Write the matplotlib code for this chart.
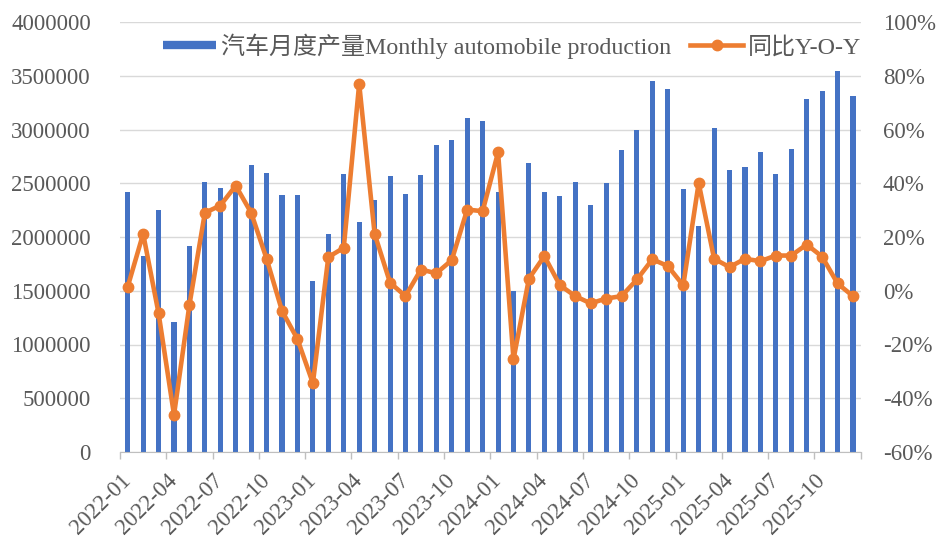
import matplotlib.pyplot as plt
from matplotlib.lines import Line2D
from matplotlib.ticker import FuncFormatter
import numpy as np

# 月份
months = [f'{y}-{m:02d}' for y in range(2022, 2026) for m in range(1, 13)]

# 汽车月度产量
production = [2420000, 1820000, 2250000, 1210000, 1920000, 2510000, 2460000, 2420000,
              2670000, 2600000, 2390000, 2390000,
              1590000, 2030000, 2590000, 2140000, 2340000, 2570000, 2400000, 2580000,
              2856000, 2900000, 3106000, 3080000,
              2416000, 1500000, 2690000, 2416000, 2380000, 2510000, 2295000, 2503000,
              2806000, 2998000, 3450000, 3378000,
              2450000, 2100000, 3010000, 2626000, 2650000, 2790000, 2590000, 2820000,
              3280000, 3360000, 3540000, 3310000]

# 同比 (%)
yoy = [1.5, 21.2, -8.4, -46.2, -5.2, 29.0, 31.7, 39.1, 29.0, 11.9, -7.5, -18.0,
       -34.4, 12.5, 16.0, 77.0, 21.2, 3.0, -2.0, 7.9, 6.5, 11.4, 30.2, 29.6,
       51.5, -25.5, 4.5, 12.9, 2.1, -2.0, -4.7, -2.9, -2.0, 4.2, 11.7, 9.2,
       2.0, 40.1, 11.9, 8.8, 11.9, 11.0, 13.1, 13.1, 17.2, 12.7, 2.7, -2.0]

grey = '#595959'
blue = '#4472C4'
orange = '#ED7D31'
plt.rcParams['font.family'] = ['Liberation Serif', 'Noto Sans CJK SC']

fig = plt.figure(figsize=(9.4, 5.43), dpi=100)
ax = fig.add_axes([120 / 940, 1 - 452 / 543, 740.7 / 940, 430 / 543])
ax2 = ax.twinx()

x = np.arange(len(months))
ax.bar(x, production, width=0.33, color=blue, zorder=2)
ax2.plot(x, yoy, color=orange, lw=3.3, marker='o', ms=7.5, zorder=3)

ax.set_xlim(-0.5, len(months) - 0.5)
ax.set_ylim(0, 4000000)
ax.set_yticks(np.arange(0, 4000001, 500000))
ax.yaxis.set_major_formatter(FuncFormatter(lambda v, p: f'{int(v)}'))
ax.yaxis.grid(True, color='#D9D9D9', lw=1, zorder=0)
ax.set_axisbelow(True)
ax2.set_ylim(-60, 100)
ax2.set_yticks(np.arange(-60, 101, 20))
ax2.set_yticklabels([f'{v}%' for v in range(-60, 101, 20)])

ax.tick_params(axis='y', length=0, labelsize=16.5, labelcolor=grey, pad=21)
ax2.tick_params(axis='y', length=0, labelsize=16.5, labelcolor=grey, pad=16)

ax.set_xticks(x[::3])
ax.set_xticklabels(months[::3], rotation=45, ha='right', va='center',
                   rotation_mode='anchor')
ax.tick_params(axis='x', which='major', length=0, labelsize=16.5,
               labelcolor=grey, pad=18)
ax.set_xticks(np.arange(-0.5, len(months), 3), minor=True)
ax.tick_params(axis='x', which='minor', length=5, color='#BFBFBF', width=1)

for a in (ax, ax2):
    for s in a.spines.values():
        s.set_visible(False)
ax.spines['bottom'].set_visible(True)
ax.spines['bottom'].set_color('#BFBFBF')

handles = [Line2D([], [], color=blue, lw=6, solid_capstyle='butt'),
           Line2D([], [], color=orange, lw=3.3, marker='o', ms=7.5)]
labels = ['汽车月度产量Monthly automobile production', '同比Y-O-Y']
ax.legend(handles, labels, ncol=2, loc='center',
          bbox_to_anchor=(512 / 940, 1 - 46 / 543),
          bbox_transform=fig.transFigure, frameon=False, fontsize=17.3,
          handlelength=2.2, handletextpad=0.2, columnspacing=0.8,
          labelcolor=grey)

plt.savefig('out.png', dpi=100)
